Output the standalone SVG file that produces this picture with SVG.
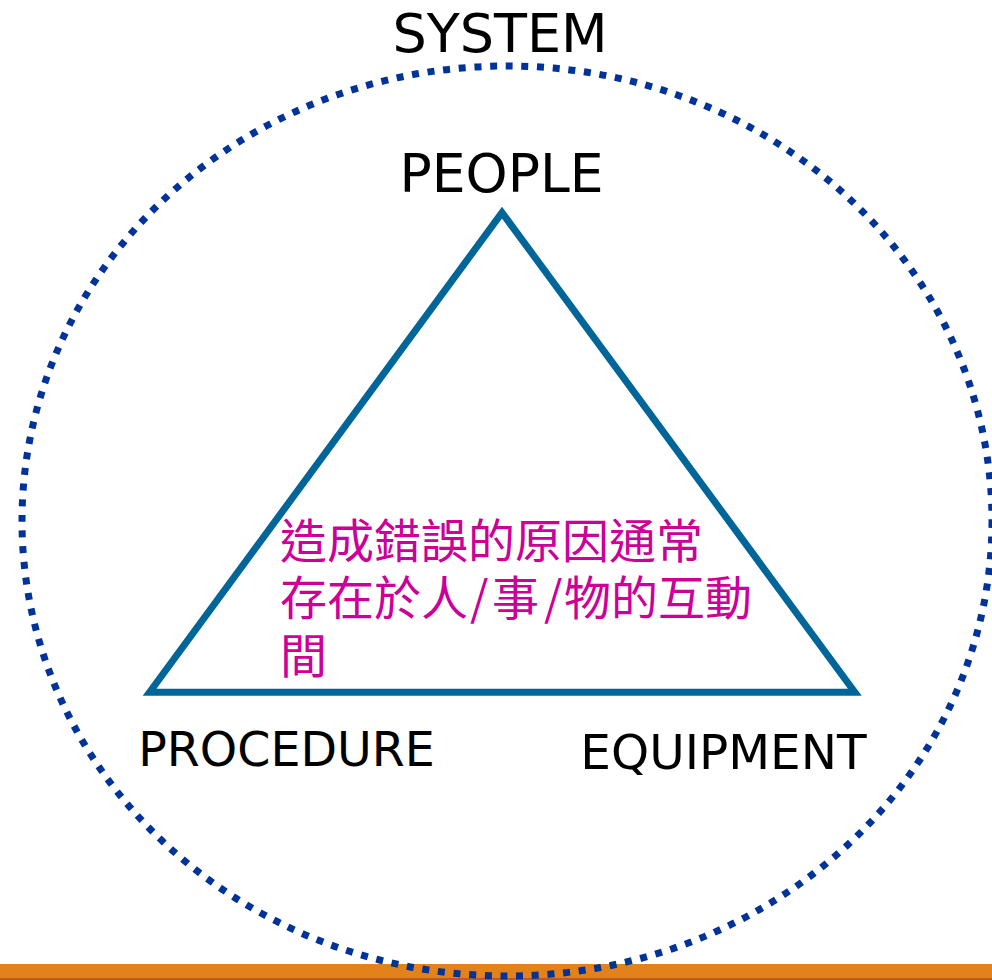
<svg xmlns="http://www.w3.org/2000/svg" width="992" height="980" viewBox="0 0 992 980">
  <style>
    .lbl { font-family: "DejaVu Sans", Verdana, sans-serif; fill: #000000; text-anchor: middle; }
    .cjk { font-family: "Noto Sans CJK TC", "Noto Sans CJK SC", sans-serif; fill: #CC0099; font-size: 47px; }
  </style>
  <rect width="992" height="980" fill="#FFFFFF"/>
  <g id="footer-bar">
    <rect x="0" y="964" width="992" height="14" fill="#E3821A"/>
    <rect x="0" y="978" width="992" height="2" fill="#C0572A"/>
  </g>
  <g id="system">
    <ellipse cx="507" cy="521" rx="485" ry="455" fill="none" stroke="#003399" stroke-width="7" stroke-dasharray="7 8.7"/>
    <text class="lbl" x="500" y="52" font-size="54">SYSTEM</text>
  </g>
  <g id="connectors">
    <polygon points="502,212.6 149.6,692.2 854.8,692.2" fill="none" stroke="#00669A" stroke-width="7" stroke-linejoin="miter"/>
  </g>
  <g id="people">
    <text class="lbl" x="501.5" y="192" font-size="53.5">PEOPLE</text>
  </g>
  <g id="procedure">
    <text class="lbl" x="286.5" y="766" font-size="47.5">PROCEDURE</text>
  </g>
  <g id="equipment">
    <text class="lbl" x="723.5" y="769" font-size="48.5">EQUIPMENT</text>
  </g>
  <g id="note">
    <text class="cjk" x="280" y="558">造成錯誤的原因通常</text>
    <text class="cjk" y="615"><tspan x="280">存在於人</tspan><tspan x="470">/</tspan><tspan x="492">事</tspan><tspan x="544">/</tspan><tspan x="564">物的互動</tspan></text>
    <text class="cjk" x="280" y="673">間</text>
  </g>
</svg>
